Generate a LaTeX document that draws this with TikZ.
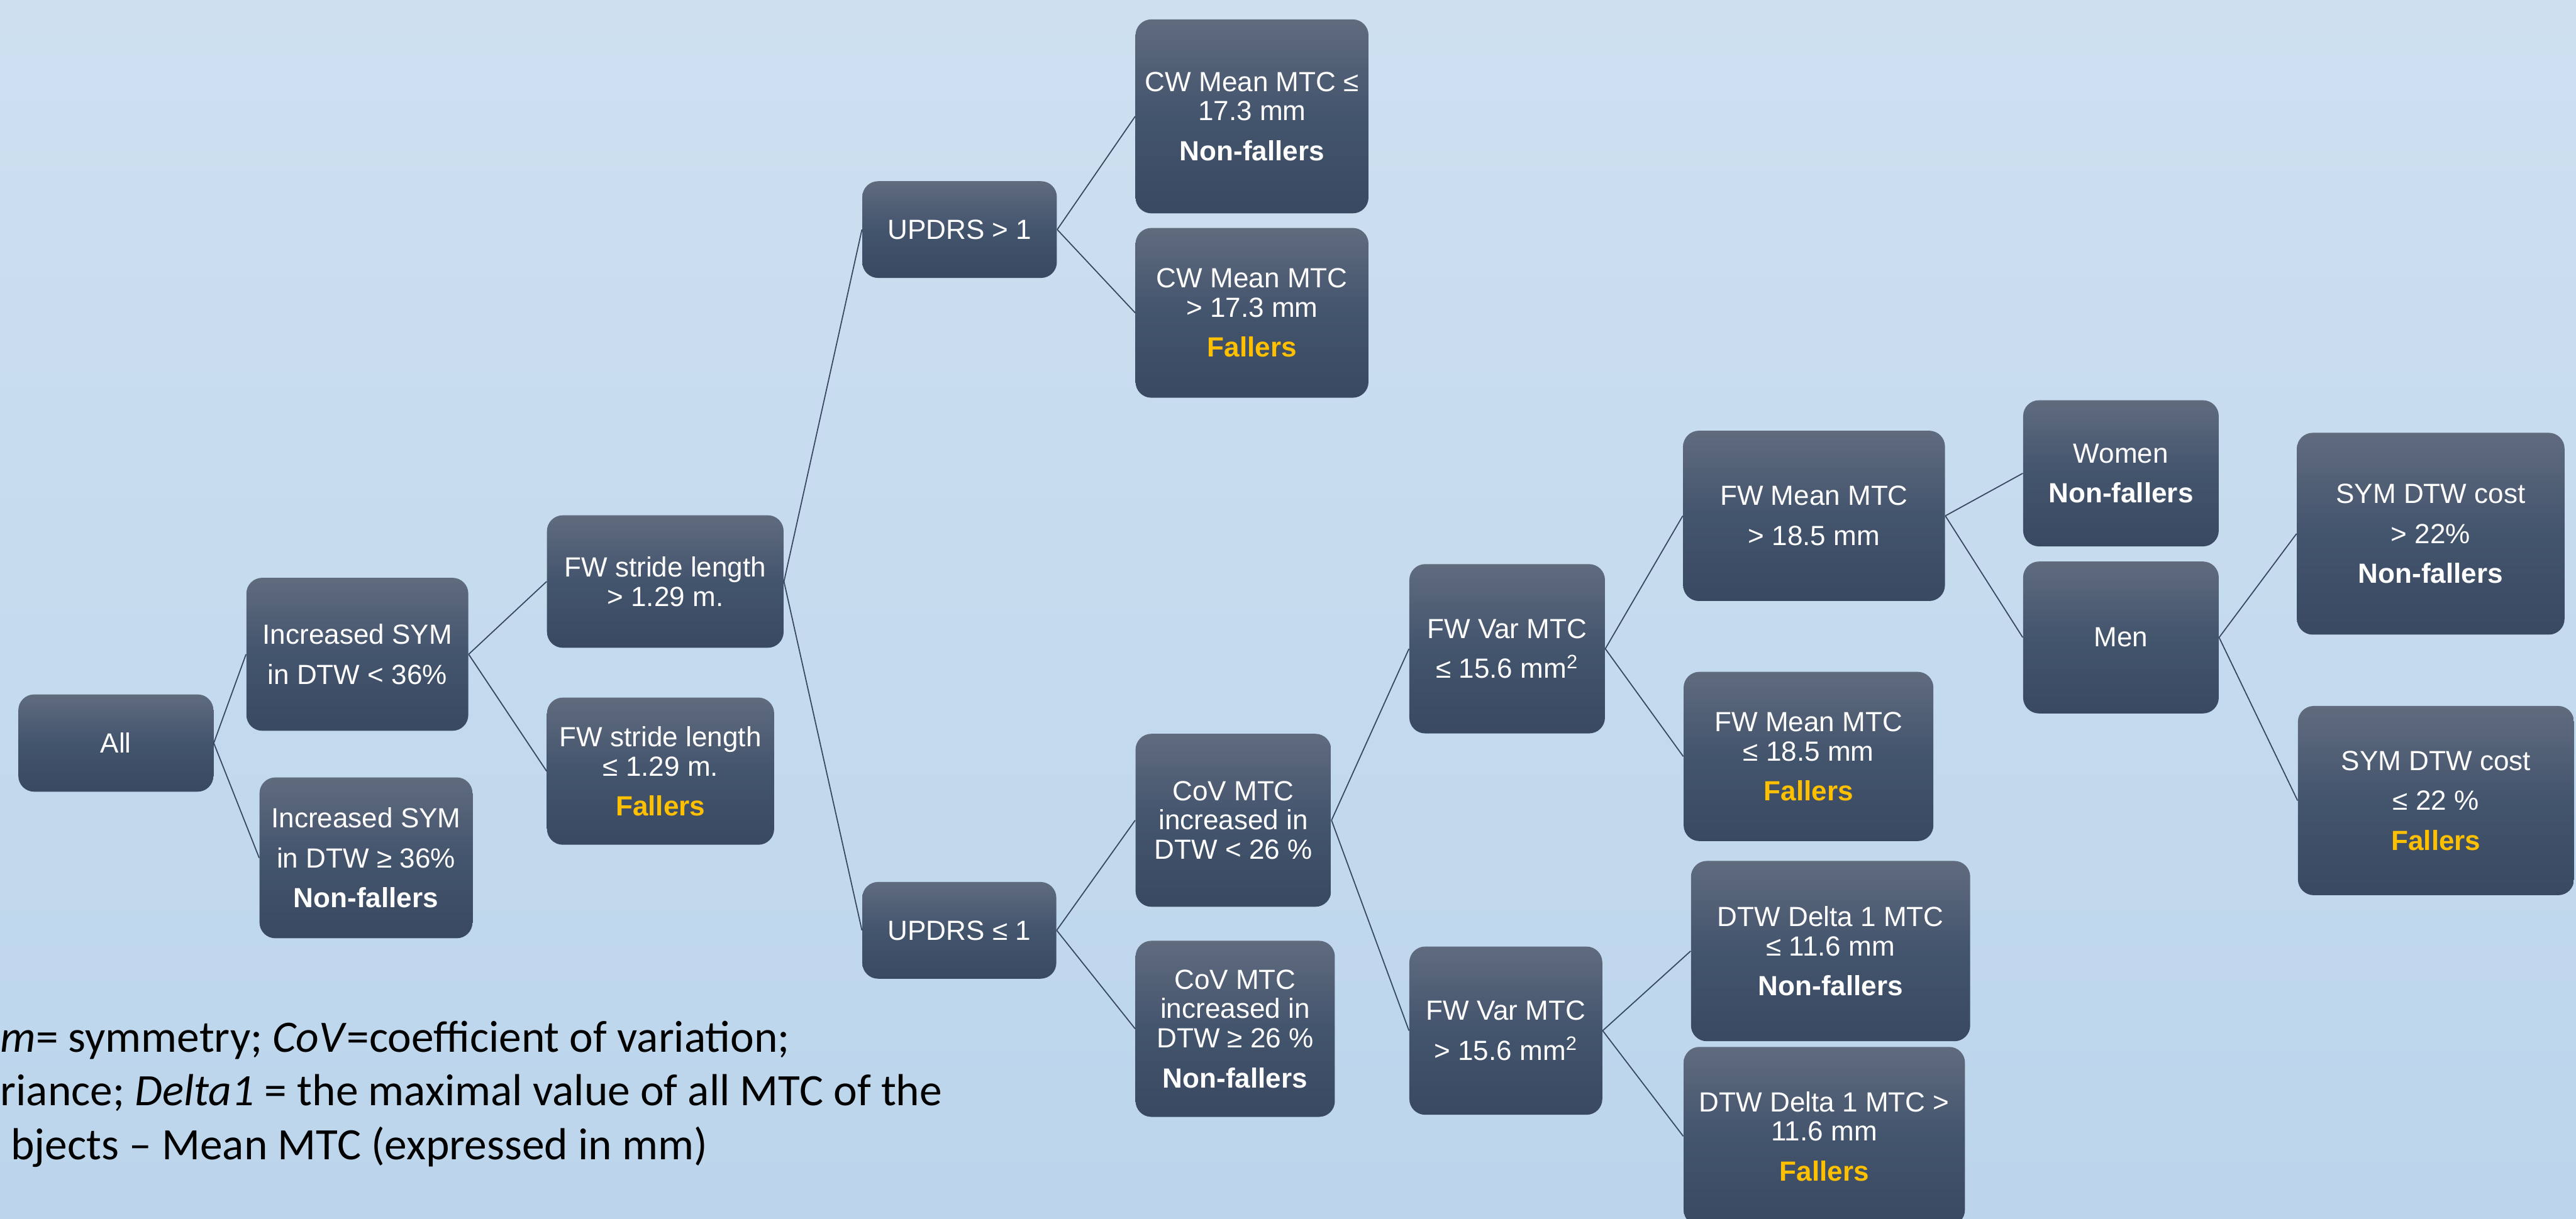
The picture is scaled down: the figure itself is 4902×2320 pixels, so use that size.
\documentclass[tikz,border=0pt]{standalone}
\usepackage{fontspec}
\setmainfont{Liberation Sans}
\newfontfamily\legendfont{Carlito}
\definecolor{bgtop}{RGB}{206,224,240}
\definecolor{bgbot}{RGB}{188,213,236}
\definecolor{boxtop}{RGB}{96,107,126}
\definecolor{boxmid}{RGB}{67,84,109}
\definecolor{boxbot}{RGB}{58,73,98}
\definecolor{gold}{RGB}{255,192,0}
\definecolor{linec}{RGB}{55,70,95}
\newcommand{\fallers}{\textbf{\color{gold}Fallers}}
\newcommand{\nonfallers}{\textbf{Non-fallers}}
\tikzset{
  dbox/.style={rectangle, rounded corners=0.3cm, top color=boxtop, bottom color=boxbot, middle color=boxmid,
    text=white, align=center, inner sep=0pt, font=\fontsize{15}{15.9}\selectfont},
  sz/.style 2 args={minimum width=#1cm, minimum height=#2cm},
  conn/.style={draw=linec, line width=0.6pt},
  legend/.style={anchor=base west, inner sep=0pt, font=\legendfont\fontsize{24.3}{29}\selectfont, text=black}
}
\begin{document}
\begin{tikzpicture}[x=0.01cm, y=-0.01cm]
\useasboundingbox (0,0) rectangle (4902,2320);
\clip (0,0) rectangle (4902,2320);
\fill[top color=bgtop, bottom color=bgbot] (0,0) rectangle (4902,2320);

\node[dbox, sz={3.71}{1.85}] (all) at (220.5,1414.5) {All};
\node[dbox, sz={4.22}{2.91}] (symlt) at (680,1245.5) {Increased SYM\\[5.7pt]in DTW < 36\%};
\node[dbox, sz={4.05}{3.06}] (symge) at (696.5,1633) {Increased SYM\\[5.7pt]in DTW ≥ 36\%\\[5.7pt]\nonfallers};
\node[dbox, sz={4.50}{2.52}] (fwsgt) at (1266,1107) {FW stride length\\> 1.29 m.};
\node[dbox, sz={4.32}{2.80}] (fwsle) at (1257,1468) {FW stride length\\≤ 1.29 m.\\[5.7pt]\fallers};
\node[dbox, sz={3.70}{1.84}] (updgt) at (1826,437) {UPDRS > 1};
\node[dbox, sz={4.43}{3.69}] (cwle) at (2382.5,221.5) {CW Mean MTC ≤\\17.3 mm\\[5.7pt]\nonfallers};
\node[dbox, sz={4.43}{3.23}] (cwgt) at (2382.5,595.5) {CW Mean MTC\\> 17.3 mm\\[5.7pt]\fallers};
\node[dbox, sz={3.69}{1.84}] (updle) at (1825.5,1771) {UPDRS ≤ 1};
\node[dbox, sz={3.72}{3.29}] (covlt) at (2347,1561.5) {CoV MTC\\increased in\\DTW < 26 \%};
\node[dbox, sz={3.79}{3.35}] (covge) at (2350.5,1958.5) {CoV MTC\\increased in\\DTW ≥ 26 \%\\[5.7pt]\nonfallers};
\node[dbox, sz={3.72}{3.22}] (fwvle) at (2868,1235) {FW Var MTC\\[5.7pt]≤ 15.6 mm\textsuperscript{2}};
\node[dbox, sz={3.67}{3.20}] (fwvgt) at (2865.5,1962) {FW Var MTC\\[5.7pt]> 15.6 mm\textsuperscript{2}};
\node[dbox, sz={4.98}{3.24}] (fwmgt) at (3452,982) {FW Mean MTC\\[5.7pt]> 18.5 mm};
\node[dbox, sz={4.75}{3.22}] (fwmle) at (3441.5,1440) {FW Mean MTC\\≤ 18.5 mm\\[5.7pt]\fallers};
\node[dbox, sz={3.72}{2.78}] (women) at (4036,901) {Women\\[5.7pt]\nonfallers};
\node[dbox, sz={3.72}{2.89}] (men) at (4036,1213.5) {Men};
\node[dbox, sz={5.09}{3.84}] (symcgt) at (4625.5,1016) {SYM DTW cost\\[5.7pt]> 22\%\\[5.7pt]\nonfallers};
\node[dbox, sz={5.25}{3.60}] (symcle) at (4635.5,1524) {SYM DTW cost\\[5.7pt]≤ 22 \%\\[5.7pt]\fallers};
\node[dbox, sz={5.31}{3.43}] (dle) at (3483.5,1810.5) {DTW Delta 1 MTC\\≤ 11.6 mm\\[5.7pt]\nonfallers};
\node[dbox, sz={5.35}{3.40}] (dgt) at (3471.5,2163) {DTW Delta 1 MTC >\\11.6 mm\\[5.7pt]\fallers};

\draw[conn] (all.east) -- (symlt.west);
\draw[conn] (all.east) -- (symge.west);
\draw[conn] (symlt.east) -- (fwsgt.west);
\draw[conn] (symlt.east) -- (fwsle.west);
\draw[conn] (fwsgt.east) -- (updgt.west);
\draw[conn] (fwsgt.east) -- (updle.west);
\draw[conn] (updgt.east) -- (cwle.west);
\draw[conn] (updgt.east) -- (cwgt.west);
\draw[conn] (updle.east) -- (covlt.west);
\draw[conn] (updle.east) -- (covge.west);
\draw[conn] (covlt.east) -- (fwvle.west);
\draw[conn] (covlt.east) -- (fwvgt.west);
\draw[conn] (fwvle.east) -- (fwmgt.west);
\draw[conn] (fwvle.east) -- (fwmle.west);
\draw[conn] (fwvgt.east) -- (dle.west);
\draw[conn] (fwvgt.east) -- (dgt.west);
\draw[conn] (fwmgt.east) -- (women.west);
\draw[conn] (fwmgt.east) -- (men.west);
\draw[conn] (men.east) -- (symcgt.west);
\draw[conn] (men.east) -- (symcle.west);

\node[legend] (leg1) at (0,2003) {\textit{m}= symmetry; \textit{CoV}=coefficient of variation;};
\node[legend] (leg2) at (0,2105) {riance; \textit{Delta1} = the maximal value of all MTC of the};
\node[legend] (leg3) at (20,2208) {bjects – Mean MTC (expressed in mm)};
\end{tikzpicture}
\end{document}
